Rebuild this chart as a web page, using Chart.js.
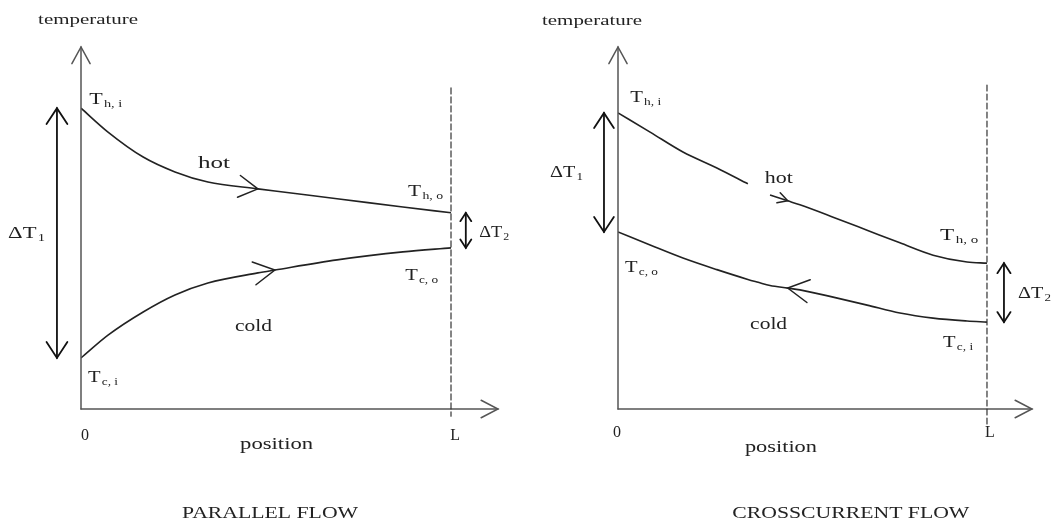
<!DOCTYPE html>
<html>
<head>
<meta charset="utf-8">
<script src="https://cdn.jsdelivr.net/npm/chart.js@4/dist/chart.umd.min.js"></script>
<style>
  body { margin: 0; background: #fff; }
  #wrap { position: relative; width: 1053px; height: 522px; }
  canvas { position: absolute; top: 0; }
</style>
</head>
<body>
<div id="wrap">
  <canvas id="parallel" width="526" height="522" style="left:0"></canvas>
  <canvas id="counter" width="527" height="522" style="left:526px"></canvas>
</div>
<script>
// position along the exchanger (0 .. L=1) and temperatures
let parallelPos = [0, 0.073, 0.168, 0.254, 0.343, 0.478, 0.524, 0.692, 0.870, 1.0];
let parallelHot = [83.1, 76.5, 69.6, 65.5, 62.7, 60.8, 60.2, 58.1, 55.8, 54.2];
let parallelCold = [14.1, 20.4, 26.8, 31.5, 34.8, 37.6, 38.4, 41.2, 43.4, 44.5];

let counterPos = [0, 0.087, 0.176, 0.268, 0.352, 0.38, 0.412, 0.46, 0.493, 0.583, 0.675, 0.764, 0.854, 0.946, 1.0];
let counterHot = [81.8, 76.5, 71.0, 66.6, 62.2, null, 59.1, 57.5, 56.4, 53.0, 49.4, 45.9, 42.5, 40.6, 40.3];
let counterCold = [48.9, 45.3, 41.7, 38.5, 35.8, 35.0, 34.1, 33.4, 32.9, 30.9, 28.7, 26.5, 25.1, 24.3, 24.0];

let tickLabels = ["0", "L"];
let axisTitles = ["temperature", "position"];
let titles = ["PARALLEL FLOW", "CROSSCURRENT FLOW"];

const INK = "#222";
const FONT = '"Liberation Serif", "DejaVu Serif", serif';

function line(ctx, x1, y1, x2, y2) {
  ctx.beginPath();
  ctx.moveTo(x1, y1);
  ctx.lineTo(x2, y2);
  ctx.stroke();
}

function head(ctx, x, y, ang, len, sp) {
  ctx.beginPath();
  ctx.moveTo(x - len * Math.cos(ang - sp), y - len * Math.sin(ang - sp));
  ctx.lineTo(x, y);
  ctx.lineTo(x - len * Math.cos(ang + sp), y - len * Math.sin(ang + sp));
  ctx.stroke();
}

// text squeezed/stretched to the width it has in the scan
function text(ctx, s, x, y, size, w, align) {
  ctx.save();
  ctx.font = size + "px " + FONT;
  let m = ctx.measureText(s).width;
  let sx = w ? w / m : 1;
  ctx.translate(x, y);
  ctx.scale(sx, 1);
  ctx.textAlign = align || "left";
  ctx.textBaseline = "alphabetic";
  ctx.fillText(s, 0, 0);
  ctx.restore();
}

// symbol with a subscript, e.g. T h,i
function symbol(ctx, main, sub, x, y, w) {
  ctx.save();
  ctx.font = "17px " + FONT;
  let a = ctx.measureText(main).width;
  ctx.font = "11px " + FONT;
  let b = ctx.measureText(sub).width;
  let sx = w / (a + b + 1);
  ctx.translate(x, y);
  ctx.scale(sx, 1);
  ctx.textBaseline = "alphabetic";
  ctx.font = "17px " + FONT;
  ctx.fillText(main, 0, 0);
  ctx.font = "11px " + FONT;
  ctx.fillText(sub, a + 1, 3);
  ctx.restore();
}

function decor(o) {
  return {
    id: "decor",
    afterDatasetsDraw(chart) {
      let ctx = chart.ctx, area = chart.chartArea;
      let X = v => chart.scales.x.getPixelForValue(v);
      let Y = v => chart.scales.y.getPixelForValue(v);
      ctx.save();
      ctx.lineCap = "round";

      // axes with open arrowheads
      ctx.strokeStyle = "#555";
      ctx.lineWidth = 1.5;
      line(ctx, X(0), Y(0), X(0), area.top);
      head(ctx, X(0), area.top, -Math.PI / 2, 19, 0.5);
      line(ctx, X(0), Y(0), area.right, Y(0));
      head(ctx, area.right, Y(0), 0, 19, 0.48);

      // x = L
      ctx.strokeStyle = "#333";
      ctx.lineWidth = 1.2;
      ctx.setLineDash([6, 3]);
      line(ctx, X(1), Y(o.dashTop), X(1), Y(o.dashBottom));
      ctx.setLineDash([]);

      // flow direction arrows on the curves
      ctx.strokeStyle = INK;
      ctx.lineWidth = 1.5;
      o.arrows.forEach((a, di) => {
        let pts = chart.getDatasetMeta(di).data;
        let p = pts[a.i], p0 = pts[a.i - 1], p1 = pts[a.i + 1];
        let ang = Math.atan2(p1.y - p0.y, p1.x - p0.x);
        if (a.dir < 0) ang += Math.PI;
        head(ctx, p.x, p.y, ang, a.len, a.sp);
      });

      // temperature differences at both ends
      let hot = chart.data.datasets[0].data, cold = chart.data.datasets[1].data;
      ctx.strokeStyle = "#111";
      ctx.lineWidth = 1.8;
      o.deltas.forEach(d => {
        let top = Y(hot[d.i].y), bot = Y(cold[d.i].y), x = X(d.x);
        line(ctx, x, top, x, bot);
        head(ctx, x, top, -Math.PI / 2, d.len, 0.58);
        head(ctx, x, bot, Math.PI / 2, d.len, 0.58);
      });

      // labels
      ctx.fillStyle = INK;
      o.labels.forEach(l => {
        if (l.sub !== undefined) symbol(ctx, l.t, l.sub, X(l.x), Y(l.y), l.w);
        else text(ctx, l.t, X(l.x), Y(l.y), l.size || 17, l.w, l.align);
      });
      ctx.restore();
    }
  };
}

function makeChart(id, pos, hot, cold, xMax, pad, o) {
  let ds = (vals) => ({
    data: pos.map((x, i) => ({ x: x, y: vals[i] })),
    borderColor: INK,
    borderWidth: 1.6,
    pointRadius: 0,
    fill: false,
    spanGaps: false,
    cubicInterpolationMode: "monotone"
  });
  return new Chart(document.getElementById(id), {
    type: "line",
    data: { datasets: [ds(hot), ds(cold)] },
    options: {
      responsive: false,
      animation: false,
      layout: { padding: pad },
      scales: {
        x: { type: "linear", min: 0, max: xMax, display: false },
        y: { type: "linear", min: 0, max: 100, display: false }
      },
      plugins: { legend: { display: false }, tooltip: { enabled: false } }
    },
    plugins: [decor(o)]
  });
}

makeChart("parallel", parallelPos, parallelHot, parallelCold, 1.127,
  { left: 81, right: 28, top: 47, bottom: 113 },
  {
    dashTop: 88.7, dashBottom: -2,
    arrows: [{ i: 5, dir: 1, len: 22, sp: 0.52 }, { i: 6, dir: 1, len: 24, sp: 0.5 }],
    deltas: [{ i: 0, x: -0.065, len: 19 }, { i: parallelPos.length - 1, x: 1.04, len: 10 }],
    labels: [
      { t: axisTitles[0], x: -0.116, y: 106.4, size: 14, w: 100 },
      { t: "T", sub: "h, i", x: 0.022, y: 84.3, w: 33 },
      { t: "hot", x: 0.316, y: 66.6, w: 32 },
      { t: "T", sub: "h, o", x: 0.884, y: 58.8, w: 35 },
      { t: "\u0394T", sub: "2", x: 1.076, y: 47.5, w: 30 },
      { t: "T", sub: "c, o", x: 0.876, y: 35.6, w: 33 },
      { t: "cold", x: 0.416, y: 21.5, w: 37 },
      { t: "T", sub: "c, i", x: 0.019, y: 7.5, w: 30 },
      { t: "\u0394T", sub: "1", x: -0.197, y: 47.2, w: 37 },
      { t: tickLabels[0], x: 0.011, y: -8.6, size: 16, align: "center" },
      { t: tickLabels[1], x: 1.011, y: -8.6, size: 16, align: "center" },
      { t: axisTitles[1], x: 0.43, y: -11.0, w: 73 },
      { t: titles[0], x: 0.511, y: -30.1, w: 176, align: "center" }
    ]
  });

makeChart("counter", counterPos, counterHot, counterCold, 1.122,
  { left: 92, right: 21, top: 47, bottom: 113 },
  {
    dashTop: 89.5, dashBottom: -4.5,
    arrows: [{ i: 7, dir: 1, len: 11, sp: 0.5 }, { i: 7, dir: -1, len: 24, sp: 0.5 }],
    deltas: [{ i: 0, x: -0.038, len: 18 }, { i: counterPos.length - 1, x: 1.046, len: 12 }],
    labels: [
      { t: axisTitles[0], x: -0.206, y: 106.1, size: 14, w: 100 },
      { t: "T", sub: "h, i", x: 0.033, y: 84.8, w: 31 },
      { t: "\u0394T", sub: "1", x: -0.184, y: 64.1, w: 33 },
      { t: "hot", x: 0.398, y: 62.4, w: 28 },
      { t: "T", sub: "h, o", x: 0.873, y: 46.7, w: 38 },
      { t: "T", sub: "c, o", x: 0.019, y: 37.8, w: 33 },
      { t: "\u0394T", sub: "2", x: 1.084, y: 30.7, w: 33 },
      { t: "cold", x: 0.358, y: 22.1, w: 37 },
      { t: "T", sub: "c, i", x: 0.881, y: 17.1, w: 30 },
      { t: tickLabels[0], x: -0.003, y: -7.7, size: 16, align: "center" },
      { t: tickLabels[1], x: 1.008, y: -7.7, size: 16, align: "center" },
      { t: axisTitles[1], x: 0.344, y: -11.9, w: 72 },
      { t: titles[1], x: 0.631, y: -30.1, w: 237, align: "center" }
    ]
  });
</script>
</body>
</html>
